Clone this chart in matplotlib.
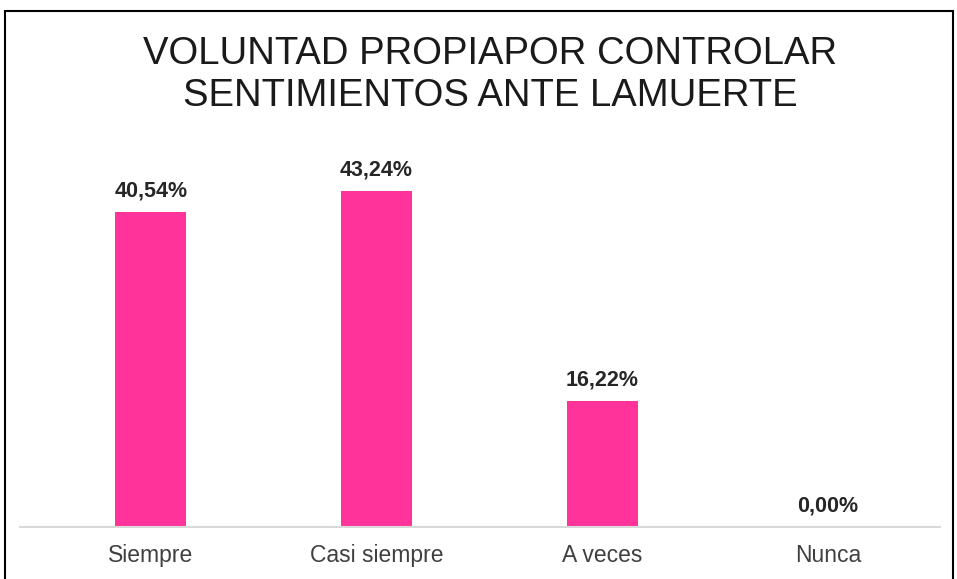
import matplotlib
matplotlib.use("Agg")
import matplotlib.pyplot as plt
from matplotlib.patches import Rectangle

categories = ["Siempre", "Casi siempre", "A veces", "Nunca"]
values = [40.54, 43.24, 16.22, 0.00]
labels = ["40,54%", "43,24%", "16,22%", "0,00%"]
title = "VOLUNTAD PROPIAPOR CONTROLAR\nSENTIMIENTOS ANTE LAMUERTE"

plt.rcParams['font.family'] = ['Liberation Sans', 'DejaVu Sans']

W, H = 957, 579
fig = plt.figure(figsize=(W / 100, H / 100), dpi=100)
fig.patch.set_facecolor('white')

ax = fig.add_axes([20 / W, (H - 527) / H, 920 / W, 388.5 / H])
x = list(range(len(categories)))
ax.bar(x, values, width=0.315, color='#FF3399', zorder=2)
ax.set_xlim(-0.58, 3.496)
ax.set_ylim(0, 50)
for s in ['top', 'right', 'left']:
    ax.spines[s].set_visible(False)
ax.spines['bottom'].set_color('#d9d9d9')
ax.spines['bottom'].set_linewidth(1.5)
ax.set_yticks([])
ax.set_xticks(x)
ax.set_xticklabels(categories, fontsize=16.5, color='#404040')
ax.tick_params(axis='x', length=0, pad=12)

for xi, v, lab in zip(x, values, labels):
    ax.annotate(lab, (xi, v), xytext=(0, 11), textcoords='offset points',
                ha='center', va='baseline', fontsize=15.5, fontweight='bold',
                color='#262626')

fig.text(490 / W, 1 - 75 / H, title, ha='center', va='center',
         fontsize=27.5, color='#1a1a1a', linespacing=1.2)

fig.patches.append(Rectangle((5 / W, -0.05), 948 / W, 1.05 - 11 / H,
                             transform=fig.transFigure, fill=False,
                             edgecolor='black', linewidth=1.5))

fig.savefig('out.png', dpi=100)
